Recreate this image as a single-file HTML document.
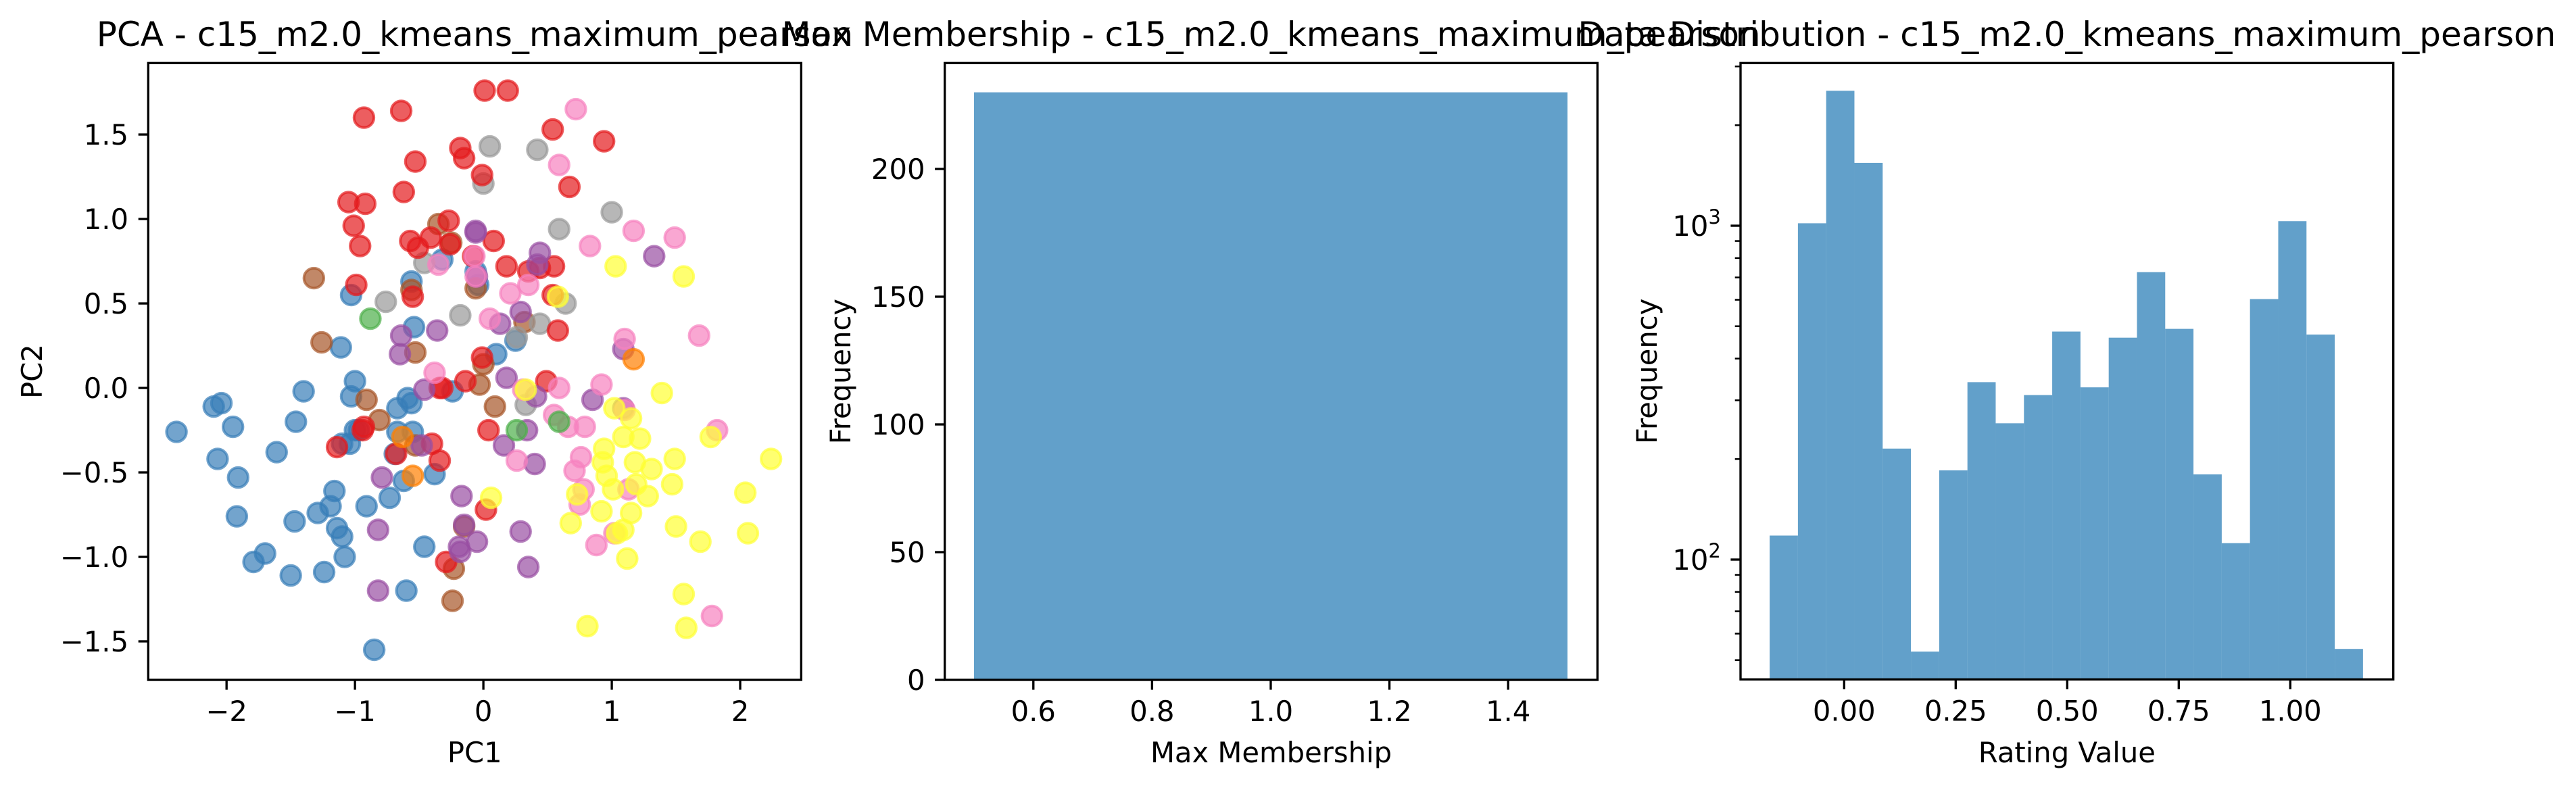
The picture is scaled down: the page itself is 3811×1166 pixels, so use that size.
<!DOCTYPE html>
<html><head><meta charset="utf-8"><style>
html,body{margin:0;padding:0;background:#fff;}
svg{display:block;font-family:"DejaVu Sans","Liberation Sans",sans-serif;}
</style></head><body>
<svg id="fig" width="3811" height="1166" viewBox="0 0 3811 1166" xmlns="http://www.w3.org/2000/svg">
<rect x="0" y="0" width="3811" height="1166" fill="#fff"/>
<g id="p1"></g>
<g id="p2"></g>
<g id="p3"></g>
</svg>
<script>
// ---------- data ----------
const pcaColors = {red:"#e41a1c",blue:"#377eb8",green:"#4daf4a",purple:"#984ea3",orange:"#ff7f00",yellow:"#ffff33",brown:"#a65628",pink:"#f781bf",grey:"#999999"};
const redPts = [[0.01,1.76],[0.19,1.76],[-0.93,1.60],[-0.64,1.64],[0.54,1.53],[0.94,1.46],[-0.18,1.42],[-0.15,1.36],[-0.53,1.34],[-0.01,1.26],[-0.62,1.16],[0.67,1.19],[-1.05,1.10],[-0.92,1.09],[-1.01,0.96],[-0.27,0.99],[-0.96,0.84],[-0.57,0.87],[-0.51,0.83],[-0.41,0.89],[-0.26,0.85],[0.08,0.87],[-0.08,0.78],[0.18,0.72],[0.35,0.69],[0.44,0.71],[0.55,0.72],[-0.99,0.61],[-0.55,0.54],[0.54,0.55],[0.58,0.34],[-0.01,0.18],[-0.14,0.04],[0.49,0.04],[-0.34,0.00],[-0.32,0.00],[0.04,-0.25],[-0.93,-0.23],[-1.14,-0.35],[-0.40,-0.33],[-0.34,-0.43],[-0.68,-0.39],[0.02,-0.72],[-0.29,-1.03],[-0.94,-0.25]];
const bluePts = [[-2.39,-0.26],[-2.10,-0.11],[-2.04,-0.09],[-1.95,-0.23],[-2.07,-0.42],[-1.91,-0.53],[-1.92,-0.76],[-1.61,-0.38],[-1.46,-0.20],[-1.40,-0.02],[-1.79,-1.03],[-1.70,-0.98],[-1.50,-1.11],[-1.47,-0.79],[-1.29,-0.74],[-1.24,-1.09],[-1.19,-0.70],[-1.16,-0.61],[-1.14,-0.83],[-1.10,-0.88],[-1.08,-1.00],[-1.10,-0.33],[-1.04,-0.33],[-1.00,-0.25],[-1.03,-0.05],[-1.00,0.04],[-1.11,0.24],[-1.03,0.55],[-0.91,-0.70],[-0.97,-0.25],[-0.85,-1.55],[-0.73,-0.65],[-0.67,-0.12],[-0.67,-0.26],[-0.62,-0.55],[-0.60,-1.20],[-0.59,-0.06],[-0.56,-0.09],[-0.54,0.36],[-0.56,0.63],[-0.46,-0.94],[-0.38,-0.51],[-0.32,0.76],[-0.24,-0.02],[-0.06,0.69],[-0.04,0.61],[0.10,0.20],[0.25,0.28],[-0.69,-0.39],[-0.55,-0.26]];
const greyPts = [[0.05,1.43],[0.42,1.41],[0.00,1.21],[1.00,1.04],[0.59,0.94],[-0.46,0.74],[-0.76,0.51],[-0.18,0.43],[0.64,0.50],[0.44,0.38],[0.33,-0.10],[0.26,0.30]];
const brownPts = [[-1.32,0.65],[-1.26,0.27],[-0.35,0.97],[-0.25,0.86],[-0.56,0.58],[-0.53,0.21],[-0.06,0.59],[0.32,0.39],[0.00,0.14],[-0.03,0.02],[-0.91,-0.07],[-0.81,-0.19],[0.09,-0.11],[-0.53,-0.34],[-0.15,-0.82],[-0.23,-1.07],[-0.24,-1.26]];
const purplePts = [[-0.06,0.93],[-0.06,0.92],[0.44,0.80],[0.42,0.73],[1.33,0.78],[-0.64,0.31],[-0.36,0.34],[-0.65,0.20],[0.13,0.38],[0.29,0.45],[0.18,0.06],[-0.46,-0.01],[0.41,-0.05],[0.85,-0.07],[1.09,0.23],[1.09,-0.12],[0.34,-0.25],[0.16,-0.34],[0.40,-0.45],[-0.48,-0.34],[-0.79,-0.53],[-0.82,-0.84],[-0.17,-0.64],[-0.15,-0.81],[-0.19,-0.94],[-0.18,-0.97],[-0.05,-0.91],[0.29,-0.85],[0.35,-1.06],[-0.82,-1.20],[-0.05,0.66]];
const pinkPts = [[0.72,1.65],[0.59,1.32],[1.17,0.93],[1.49,0.89],[0.83,0.84],[-0.35,0.73],[-0.07,0.78],[-0.06,0.66],[0.35,0.61],[0.21,0.56],[0.05,0.41],[1.10,0.29],[1.68,0.31],[-0.38,0.09],[0.31,-0.01],[0.59,0.00],[0.92,0.02],[0.55,-0.16],[0.66,-0.23],[0.79,-0.23],[1.82,-0.25],[0.76,-0.41],[0.26,-0.43],[0.71,-0.49],[0.78,-0.60],[0.75,-0.69],[1.13,-0.60],[0.88,-0.93],[1.02,-0.86],[1.78,-1.35],[1.10,-0.13]];
const yellowPts = [[1.03,0.72],[1.56,0.66],[0.58,0.54],[1.39,-0.03],[1.02,-0.12],[1.15,-0.18],[1.09,-0.29],[1.22,-0.30],[1.77,-0.29],[0.94,-0.36],[0.93,-0.44],[1.18,-0.44],[1.49,-0.42],[2.24,-0.42],[1.31,-0.48],[0.96,-0.52],[1.47,-0.57],[1.19,-0.57],[1.01,-0.60],[0.73,-0.63],[1.28,-0.64],[2.04,-0.62],[1.15,-0.74],[0.92,-0.73],[0.68,-0.80],[1.50,-0.82],[1.09,-0.84],[1.04,-0.86],[2.06,-0.86],[1.69,-0.91],[1.12,-1.01],[1.56,-1.22],[0.81,-1.41],[1.58,-1.42],[0.06,-0.65],[0.33,-0.01]];
const greenPts = [[-0.88,0.41],[0.26,-0.25],[0.59,-0.20]];
const orangePts = [[1.17,0.17],[-0.55,-0.52],[-0.63,-0.29]];
const p1XTicks = [-2,-1,0,1,2];
const p1YTicks = [-1.5,-1.0,-0.5,0.0,0.5,1.0,1.5];

const membershipBinEdges = [0.5,1.5];
const membershipCounts = [230];
const p2XTicks = [0.6,0.8,1.0,1.2,1.4];
const p2YTicks = [0,50,100,150,200];

const ratingStart = -0.167;
const ratingEnd = 1.163;
const ratingCounts = [118,1017,2536,1543,215,53,185,340,256,311,482,328,462,726,491,180,112,603,1032,472,54];
const p3XTicks = [0.00,0.25,0.50,0.75,1.00];
const p3YMajor = [100,1000];
const p3YMinor = [50,60,70,80,90,200,300,400,500,600,700,800,900,2000,3000];

// ---------- helpers ----------
const NS="http://www.w3.org/2000/svg";
function mk(parent,tag,attrs){const e=document.createElementNS(NS,tag);for(const k in attrs)e.setAttribute(k,attrs[k]);parent.appendChild(e);return e;}
function fmtNum(v,d){const s=Math.abs(v).toFixed(d);return (v<0?"\u2212":"")+s;}
const FS=41.7, TFS=50, TL=14.6, LW=3.33;

function frame(g,L,T,R,B){
  const f=mk(g,"rect",{x:L,y:T,width:R-L,height:B-T,fill:"none",stroke:"#000","stroke-width":LW});
  
  
}
function xTick(g,x,B,label){
  const t=mk(g,"line",{x1:x,x2:x,y1:B,y2:B+TL,stroke:"#000","stroke-width":LW});
  
  
  const tx=mk(g,"text",{x:x,y:B+61,"font-size":FS,"text-anchor":"middle"});
  tx.textContent=label;
  
  
}
function yTick(g,y,L,label){
  const t=mk(g,"line",{x1:L-TL,x2:L,y1:y,y2:y,stroke:"#000","stroke-width":LW});
  
  
  if(label!==null){
    const tx=mk(g,"text",{x:L-TL-14.6,y:y+15,"font-size":FS,"text-anchor":"end"});
    tx.textContent=label;
    
    
    return tx;
  }
}
function title(g,cx,txt){
  const t=mk(g,"text",{x:cx,y:68,"font-size":TFS,"text-anchor":"middle"});
  t.textContent=txt;
  
  
}
function xlabel(g,cx,txt){
  const t=mk(g,"text",{x:cx,y:1128,"font-size":FS,"text-anchor":"middle"});
  t.textContent=txt;
  
  
}
function ylabel(g,x,cy,txt){
  const t=mk(g,"text",{x:0,y:0,"font-size":FS,"text-anchor":"middle",transform:`translate(${x},${cy}) rotate(-90)`});
  t.textContent=txt;
  
  
}

// ---------- panel 1: PCA scatter ----------
(function(){
  const g=document.getElementById("p1");
  const L=219.3,R=1185.3,T=93.3,B=1006;
  const xmin=-2.61,xmax=2.475,ymin=-1.728,ymax=1.923;
  const sx=v=>L+(v-xmin)/(xmax-xmin)*(R-L);
  const sy=v=>B-(v-ymin)/(ymax-ymin)*(B-T);
  const groups=[["blue",bluePts],["brown",brownPts],["grey",greyPts],["red",redPts],["purple",purplePts],["pink",pinkPts],["green",greenPts],["orange",orangePts],["yellow",yellowPts]];
  groups.forEach(([c,pts])=>{
    pts.forEach(p=>{
      const d=mk(g,"circle",{cx:sx(p[0]),cy:sy(p[1]),r:14.7,fill:pcaColors[c],"fill-opacity":0.7,stroke:pcaColors[c],"stroke-opacity":0.7,"stroke-width":4});
      
      
    });
  });
  frame(g,L,T,R,B);
  p1XTicks.forEach(v=>xTick(g,sx(v),B,fmtNum(v,0)));
  p1YTicks.forEach(v=>yTick(g,sy(v),L,fmtNum(v,1)));
  title(g,(L+R)/2,"PCA - c15_m2.0_kmeans_maximum_pearson");
  xlabel(g,(L+R)/2,"PC1");
  ylabel(g,62,(T+B)/2,"PC2");
})();

// ---------- panel 2: Max membership histogram ----------
(function(){
  const g=document.getElementById("p2");
  const L=1397.7,R=2363.3,T=93.3,B=1006;
  const xmin=0.4507,xmax=1.5505,ymin=0,ymax=(B-T)/3.78;
  const sx=v=>L+(v-xmin)/(xmax-xmin)*(R-L);
  const sy=v=>B-(v-ymin)/(ymax-ymin)*(B-T);
  membershipCounts.forEach((c,i)=>{
    const x0=sx(membershipBinEdges[i]),x1=sx(membershipBinEdges[i+1]);
    const b=mk(g,"rect",{x:x0,y:sy(c),width:x1-x0,height:B-sy(c),fill:"#1f77b4","fill-opacity":0.7});
    
    
  });
  frame(g,L,T,R,B);
  p2XTicks.forEach(v=>xTick(g,sx(v),B,v.toFixed(1)));
  p2YTicks.forEach(v=>yTick(g,sy(v),L,String(v)));
  title(g,(L+R)/2,"Max Membership - c15_m2.0_kmeans_maximum_pearson");
  xlabel(g,(L+R)/2,"Max Membership");
  ylabel(g,1258,(T+B)/2,"Frequency");
})();

// ---------- panel 3: Rating distribution (log) ----------
(function(){
  const g=document.getElementById("p3");
  const L=2575,R=3540.7,T=93.3,B=1005.3;
  const x0px=2728.3,pxPerUnit=660;
  const sx=v=>x0px+v*pxPerUnit;
  const dec=494, y1000=334;
  const sy=v=>y1000-(Math.log10(v)-3)*dec;
  const w=(ratingEnd-ratingStart)/ratingCounts.length;
  ratingCounts.forEach((c,i)=>{
    const a=sx(ratingStart+i*w),b2=sx(ratingStart+(i+1)*w);
    const b=mk(g,"rect",{x:a,y:sy(c),width:b2-a,height:B-sy(c),fill:"#1f77b4","fill-opacity":0.7});
    
    
  });
  frame(g,L,T,R,B);
  p3XTicks.forEach(v=>xTick(g,sx(v),B,v.toFixed(2)));
  p3YMinor.forEach(v=>{
    const y=sy(v); if(y<T-1||y>B+1) return;
    const t=mk(g,"line",{x1:L-8.3,x2:L,y1:y,y2:y,stroke:"#000","stroke-width":2.5});
    
    
  });
  p3YMajor.forEach(v=>{
    const tx=yTick(g,sy(v),L,"10");
    const sup=mk(tx,"tspan",{"font-size":29,dy:-18});
    sup.textContent=String(Math.round(Math.log10(v)));
  });
  title(g,(L+R)/2,"Data Distribution - c15_m2.0_kmeans_maximum_pearson");
  xlabel(g,(L+R)/2,"Rating Value");
  ylabel(g,2451,(T+B)/2,"Frequency");
})();
</script>
</body></html>
